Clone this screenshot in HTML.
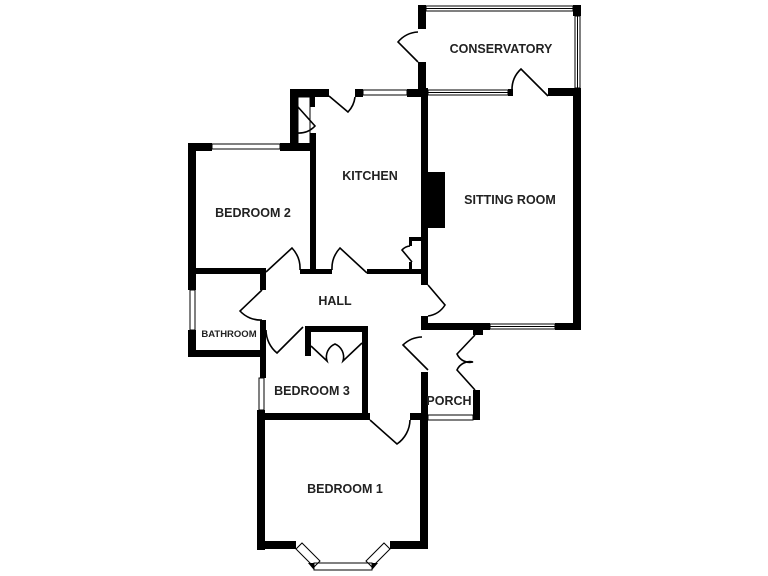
<!DOCTYPE html>
<html><head><meta charset="utf-8"><style>
html,body{margin:0;padding:0;background:#fff;}
svg{display:block}
text{font-family:"Liberation Sans",sans-serif;font-weight:bold;fill:#222;text-anchor:middle}
</style></head><body>
<svg width="768" height="576" viewBox="0 0 768 576" xmlns="http://www.w3.org/2000/svg">
<g fill="#000">
<!-- conservatory -->
<rect x="418" y="5" width="8" height="24"/>
<rect x="418" y="62" width="8" height="34"/>
<rect x="573" y="5" width="8" height="11"/>
<rect x="548" y="88" width="33" height="8"/>
<rect x="508" y="89" width="5" height="7"/>
<!-- sitting room -->
<rect x="421" y="88" width="7" height="197"/>
<rect x="573" y="88" width="8" height="242"/>
<rect x="421" y="316" width="7" height="14"/>
<rect x="421" y="323" width="69" height="7"/>
<rect x="555" y="323" width="26" height="7"/>
<rect x="428" y="172" width="17" height="56"/>
<!-- kitchen top -->
<rect x="290" y="89" width="39" height="8"/>
<rect x="355" y="89" width="8" height="8"/>
<rect x="407" y="89" width="21" height="8"/>
<rect x="290" y="89" width="8" height="56"/>
<rect x="310" y="97" width="5" height="10"/>
<rect x="310" y="133" width="6" height="140"/>
<rect x="409" y="237" width="12" height="4"/>
<rect x="409" y="237" width="3" height="9"/>
<rect x="409" y="262" width="3" height="8"/>
<!-- bedroom 2 -->
<rect x="188" y="143" width="24" height="8"/>
<rect x="280" y="143" width="36" height="8"/>
<rect x="188" y="143" width="8" height="147"/>
<rect x="188" y="268" width="77" height="6"/>
<rect x="300" y="269" width="32" height="5"/>
<rect x="367" y="269" width="55" height="5"/>
<!-- bathroom -->
<rect x="188" y="330" width="8" height="27"/>
<rect x="188" y="350" width="77" height="7"/>
<rect x="260" y="268" width="6" height="22"/>
<rect x="260" y="320" width="6" height="58"/>
<!-- bedroom 3 -->
<rect x="257" y="410" width="8" height="140"/>
<rect x="305" y="326" width="63" height="6"/>
<rect x="305" y="326" width="6" height="30"/>
<rect x="362" y="326" width="6" height="94"/>
<rect x="257" y="413" width="113" height="7"/>
<!-- bedroom 1 -->
<rect x="410" y="413" width="18" height="7"/>
<rect x="420" y="413" width="8" height="135"/>
<rect x="257" y="541" width="39" height="8"/>
<rect x="390" y="541" width="38" height="8"/>
<polygon points="308,563 314,563 314,570"/>
<polygon points="378,563 372,563 372,570"/>
<!-- porch -->
<rect x="421" y="372" width="7" height="48"/>
<rect x="473" y="323" width="10" height="12"/>
<rect x="473" y="390" width="7" height="30"/>
</g>
<g fill="none" stroke="#000" stroke-width="1">
<!-- windows -->
<rect x="426" y="6" width="147" height="5"/><line x1="426" y1="8.5" x2="573" y2="8.5"/>
<rect x="575" y="16" width="5" height="72"/><line x1="577.5" y1="16" x2="577.5" y2="88"/>
<rect x="428" y="90" width="80" height="5"/><line x1="428" y1="92.5" x2="508" y2="92.5"/>
<rect x="363" y="90" width="44" height="5"/>
<rect x="212" y="144" width="68" height="5"/>
<rect x="190" y="290" width="5" height="40"/>
<rect x="259" y="378" width="5" height="32"/>
<rect x="490" y="324" width="65" height="5"/><line x1="490" y1="326.5" x2="555" y2="326.5"/>
<rect x="428" y="415" width="45" height="5"/>
<rect x="314" y="563" width="58" height="7"/>
<polygon points="296,549 302,543 320,561 314,567"/>
<polygon points="390,549 384,543 366,561 372,567"/>
<line x1="480" y1="325" x2="490" y2="325"/><line x1="480" y1="329" x2="490" y2="329"/>
<rect x="298" y="97" width="12" height="48"/>
</g>
<g fill="none" stroke="#000" stroke-width="1.6">
<path d="M418 62 L398 42 A28 28 0 0 1 418 32"/>
<path d="M548 96 L521 69 A28 28 0 0 0 512 90"/>
<path d="M329 96 L348 112 A26 26 0 0 0 355 97"/>
<path d="M298 107 L315 126 A22 22 0 0 1 298 133"/>
<path d="M367 273 L340 248 A30 30 0 0 0 332 270"/>
<path d="M266 272 L292 248 A30 30 0 0 1 300 270"/>
<path d="M412 262 L402 250 A12 12 0 0 1 410 246"/>
<path d="M428 285 L445 305 A24 24 0 0 1 428 316"/>
<path d="M262 290 L240 311 A28 28 0 0 0 262 320"/>
<path d="M303 327 L277 353 A30 30 0 0 1 266 330"/>
<path d="M311 346 L327 361 A14 14 0 0 1 335 344 A14 14 0 0 1 343 361 L362 343"/>
<path d="M428 370 L403 345 A28 28 0 0 1 422 337"/>
<path d="M370 420 L397 444 A30 30 0 0 0 410 420"/>
<path d="M475 335 L457 354 A14 14 0 0 0 473 362 A14 14 0 0 0 457 370 L475 390"/>
</g>
<text x="501" y="53" font-size="12.5">CONSERVATORY</text>
<text x="370" y="180" font-size="12.5">KITCHEN</text>
<text x="510" y="204" font-size="12.5">SITTING ROOM</text>
<text x="253" y="217" font-size="12.5">BEDROOM 2</text>
<text x="335" y="305" font-size="12.5">HALL</text>
<text x="229" y="337" font-size="9.5">BATHROOM</text>
<text x="312" y="395" font-size="12.5">BEDROOM 3</text>
<text x="449" y="405" font-size="12.5">PORCH</text>
<text x="345" y="493" font-size="12.5">BEDROOM 1</text>
</svg>
</body></html>
